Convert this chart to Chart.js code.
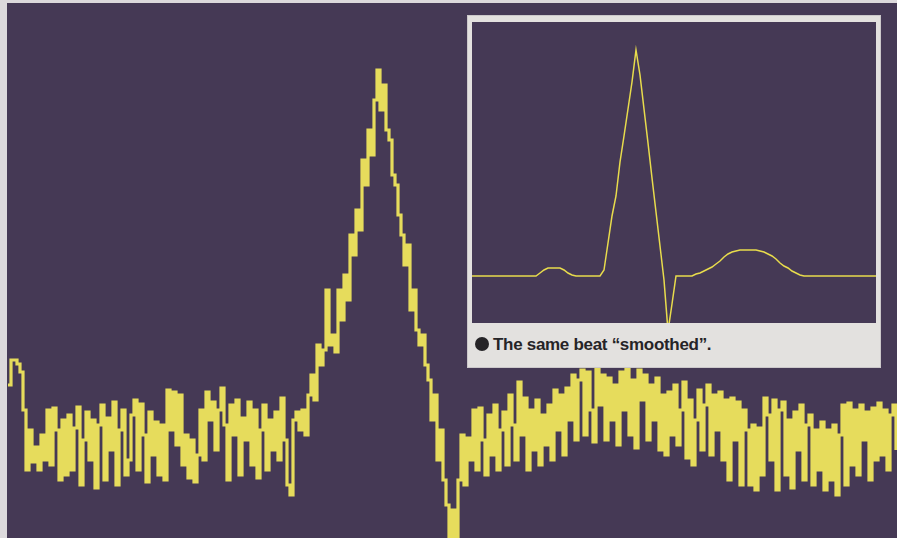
<!DOCTYPE html>
<html>
<head>
<meta charset="utf-8">
<script src="https://cdn.jsdelivr.net/npm/chart.js@4.4.1/dist/chart.umd.min.js"></script>
<style>
  html, body { margin: 0; padding: 0; }
  body {
    width: 897px; height: 538px; overflow: hidden; position: relative;
    background: #453955; font-family: "Liberation Sans", Arial, sans-serif;
  }
  .edge-left { position: absolute; left: 0; top: 0; width: 7px; height: 538px; background: #dcd9dc; }
  .edge-top { position: absolute; left: 0; top: 0; width: 897px; height: 3px; background: #dcd9dc; }
  #traceChart { position: absolute; left: 0; top: 0; }
  .inset {
    position: absolute; left: 467px; top: 15px; width: 414px; height: 353px;
    background: #e3e1df; box-shadow: inset 0 0 0 1px #cbc8ca;
  }
  #smoothChart { position: absolute; left: 5px; top: 7px; background: #453955; }
  .caption {
    position: absolute; left: 8px; top: 320px; line-height: 20px;
    font-size: 17px; font-weight: bold; letter-spacing: -0.3px; color: #262427; white-space: nowrap;
  }
  .caption .dot {
    display: inline-block; width: 14px; height: 14px; border-radius: 50%;
    background: #262427; margin-right: 4px; vertical-align: -1px;
  }
</style>
</head>
<body>
<div class="edge-left"></div>
<div class="edge-top"></div>
<canvas id="traceChart" width="897" height="538"></canvas>
<div class="inset">
  <canvas id="smoothChart" width="404" height="301"></canvas>
  <div class="caption"><span class="dot"></span>The same beat “smoothed”.</div>
</div>
<script>
// raw beat, one sample per step (amplitude, baseline = 0)
const preBeat = [
  55, 80, 80, 76, 68, 30, -30, 10, -22, -7,
  -30, 5, -20, 30, -25, 32, 10, -40, 20, -35,
  25, -30, 12, 33, -45, 0, 28, -20, 20, -48,
  15, 35, -40, 22, -10, 38, -45, 10, 30, -35,
  -20, 25, 40, -30, 36, 5, -42, 28, -15, 18,
  -35, 15, -40, 50, 10, 48, -5, 45, -25, 5,
];
const pWave = [
  -38, 0, -42, -15, 30, -20, 48, 20, 38, -10,
  30, 52, 15, -40, 35, 5, 40, -35, 22, 0,
  38, -25, 30, -38, 10, 35, -30, 20, -10, 28,
  -20, 42, 0, -45, -55, 20, 28, 10, 30, 5,
];
const qrsComplex = [
  45, 65, 40, 95, 75, 90, 150, 95, 105, 88,
  150, 120, 165, 140, 205, 185, 230, 210, 280, 255,
  310, 285, 340, 370, 330, 355, 310, 300, 265, 255,
  225, 205, 175, 195, 130, 150, 110, 95, 105, 75,
  60, 20, 45, -20, 10, -40, -65, -100, -70, -98,
];
const stSegment = [
  -40, 5, -45, 2, -20, 30, -30, 32, 0, -35,
  25, -15, 35, -30, 10, 28, -25, 45, 15, -20,
  58, 5, 42, -30, 30, -10, 40, -25, 25, -5,
  35, -20, 50, 10, 45, -15, 52, 20, 65, 0,
];
const tWave = [
  60, 70, 5, 68, 30, -2, 72, 35, 65, 0,
  62, 20, 55, -5, 68, 30, 72, 5, 60, -8,
  70, 40, 65, 0, 55, 20, 62, -10, 45, -15,
  48, 5, 55, -5, 30, 58, -18, 40, -25, 20,
  50, -10, 35, 55, -15, 45, 10, 48, -20, 40,
  -40, 42, 0, 38, -45, 30, 10, -45, 15, -50,
];
const postBeat = [
  12, -35, 42, 25, -20, 40, -50, 30, 38, -35,
  20, -48, 28, -10, 35, -40, 15, 25, -45, 10,
  -30, 18, -50, 10, -40, 15, -55, 5, 35, -45,
  37, -25, 30, -35, 35, 0, 28, -40, 32, -20,
  37, -15, 30, -30, 25, 35, -10,
];

// smoothed beat for the inset
const smoothPWave = [
  0, 0, 0, 0, 0, 0, 0, 0, 0, 0, 0, 0, 0, 0, 0, 0, 0,
  3, 6, 8, 8, 8, 8, 6, 3, 1,
  0, 0, 0, 0, 0, 0, 0,
];
const smoothQrs = [
  6, 33, 60, 80, 114, 140, 167, 194, 226, 201, 167,
  133, 98, 64, 30, -4, -55, -28, 0, 0, 0, 0,
];
const smoothTWave = [
  0, 2, 3, 5, 7, 9, 12, 15, 19, 22, 24,
  25, 26, 26, 26, 26, 26, 25,
  24, 22, 20, 17, 13, 10, 8, 5, 3, 1, 0,
  0, 0, 0, 0, 0, 0, 0, 0, 0, 0, 0, 0, 0, 0, 0, 0, 0, 0,
];

const rawTrace = [...preBeat, ...pWave, ...qrsComplex, ...stSegment, ...tWave, ...postBeat];
const smoothTrace = [...smoothPWave, ...smoothQrs, ...smoothTWave];

function baseOptions(yMin, yMax, padding) {
  return {
    responsive: false,
    animation: false,
    devicePixelRatio: 1,
    layout: { padding },
    plugins: { legend: { display: false }, tooltip: { enabled: false } },
    scales: {
      x: { display: false, offset: false },
      y: { display: false, min: yMin, max: yMax },
    },
  };
}

function renderTraceChart() {
  new Chart(document.getElementById("traceChart"), {
    type: "line",
    data: {
      labels: rawTrace.map((_, i) => i),
      datasets: [{
        data: rawTrace,
        borderColor: "#e6dc5c",
        borderWidth: 3.2,
        borderJoinStyle: "miter",
        stepped: true,
        pointRadius: 0,
        fill: false,
      }],
    },
    options: baseOptions(-98, 440, { left: 8, right: 1, top: 0, bottom: 0 }),
  });
}

function renderSmoothChart() {
  new Chart(document.getElementById("smoothChart"), {
    type: "line",
    data: {
      labels: smoothTrace.map((_, i) => i),
      datasets: [{
        data: smoothTrace,
        borderColor: "#e8dc4c",
        borderWidth: 1.5,
        tension: 0,
        pointRadius: 0,
        fill: false,
      }],
    },
    options: baseOptions(-47, 254, 0),
  });
}

renderTraceChart();
renderSmoothChart();
</script>
</body>
</html>
